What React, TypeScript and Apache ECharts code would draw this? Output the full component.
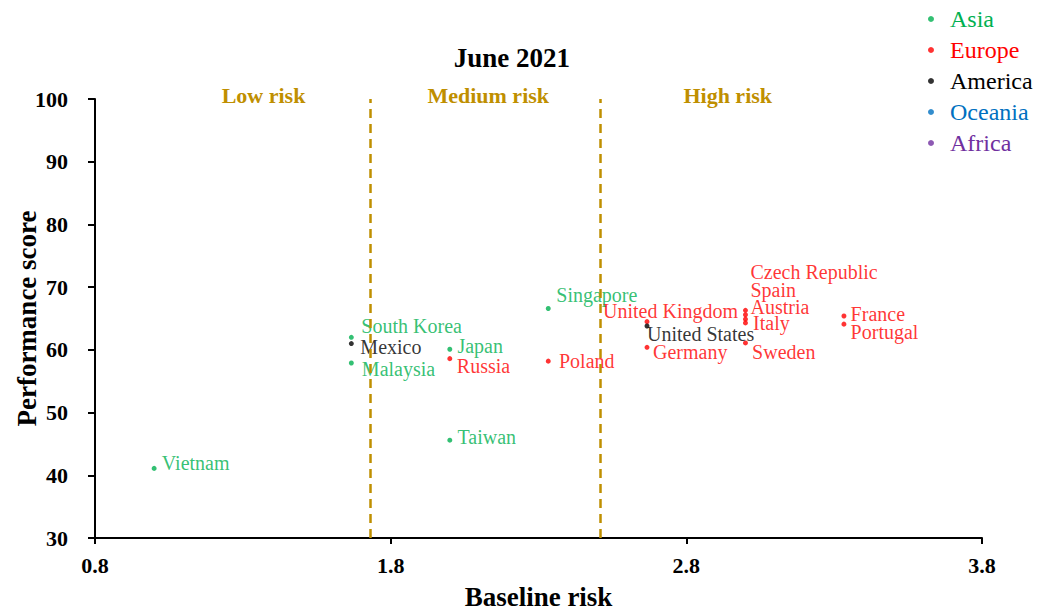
import React, { useEffect, useRef } from "react";
import * as echarts from "echarts";

const FONT = "Liberation Serif, Times New Roman, serif";

const titleText = "June 2021";
const xAxisTitle = "Baseline risk";
const yAxisTitle = "Performance score";

const regions = ["Asia", "Europe", "America", "Oceania", "Africa"];
const regionColors = ["#00B050", "#FF0000", "#000000", "#0070C0", "#7030A0"];

const asiaNames = ["Vietnam", "South Korea", "Malaysia", "Japan", "Taiwan", "Singapore"];
const asiaX = [1.0, 1.667, 1.667, 2.0, 2.0, 2.333];
const asiaY = [41.1, 62.0, 57.9, 60.1, 45.6, 66.6];

const europeNames = [
  "Russia", "Poland", "United Kingdom", "Germany", "Czech Republic", "Spain",
  "Austria", "Italy", "Sweden", "France", "Portugal",
];
const europeX = [2.0, 2.333, 2.667, 2.667, 3.0, 3.0, 3.0, 3.0, 3.0, 3.333, 3.333];
const europeY = [58.6, 58.2, 64.5, 60.4, 66.3, 65.6, 64.9, 64.3, 61.1, 65.4, 64.1];

const americaNames = ["Mexico", "United States"];
const americaX = [1.667, 2.667];
const americaY = [61.0, 63.8];

const oceaniaNames: string[] = [];
const oceaniaX: number[] = [];
const oceaniaY: number[] = [];

const africaNames: string[] = [];
const africaX: number[] = [];
const africaY: number[] = [];

const riskBoundaries = [1.73, 2.51];
const riskZones = ["Low risk", "Medium risk", "High risk"];
const riskLabelX = [1.37, 2.13, 2.94];

const xTicks = { min: 0.8, max: 3.8, interval: 1 };
const yTicks = { min: 30, max: 100, interval: 10 };

// label placement: [dx from dot to text start, dy from dot to text middle]
const labelOffsets: Record<string, [number, number]> = {
  Vietnam: [7.7, -5.6],
  "South Korea": [10, -11],
  Malaysia: [10.5, 6.3],
  Japan: [7.6, -3],
  Taiwan: [7.7, -3.3],
  Singapore: [8, -13.3],
  Russia: [7, 7.7],
  Poland: [10.7, 0],
  "United Kingdom": [-44, -10.7],
  Germany: [6, 5],
  "Czech Republic": [5, -38],
  Spain: [5, -25],
  Austria: [5, -12],
  Italy: [7.6, 0],
  Sweden: [6.6, 9],
  France: [6.7, -2],
  Portugal: [6.7, 7.7],
  Mexico: [9, 3.7],
  "United States": [0, 7.6],
};

const SYMBOL = 5;
const GOLD = "#BF8F00";

function makeSeries(idx: number, names: string[], xs: number[], ys: number[]) {
  const color = regionColors[idx];
  return {
    type: "scatter",
    name: regions[idx],
    symbol: "circle",
    symbolSize: SYMBOL,
    itemStyle: { color },
    label: {
      show: true,
      formatter: "{b}",
      color,
      fontFamily: FONT,
      fontSize: 20,
      align: "left",
      verticalAlign: "middle",
    },
    data: names.map((n, i) => {
      const off = labelOffsets[n] || [6, 0];
      return {
        name: n,
        value: [xs[i], ys[i]],
        label: { position: [off[0] + SYMBOL / 2, off[1] + SYMBOL / 2] },
      };
    }),
  };
}

export default function App() {
  const ref = useRef<HTMLDivElement>(null);
  useEffect(() => {
    document.body.style.margin = "0";
    if (!ref.current) return;
    const chart = echarts.init(ref.current, null, { renderer: "svg" });
    const asia: any = makeSeries(0, asiaNames, asiaX, asiaY);
    asia.markLine = {
      silent: true,
      symbol: ["none", "none"],
      label: { show: false },
      lineStyle: { color: GOLD, width: 2.5, type: [9, 6] },
      data: riskBoundaries.map((v) => ({ xAxis: v })),
    };
    chart.setOption({
      animation: false,
      grid: { left: 95, right: 63, top: 99, bottom: 74, outerBoundsMode: "none", containLabel: false },
      legend: {
        orient: "vertical",
        left: 923,
        top: 2,
        itemWidth: 6,
        itemHeight: 6,
        itemGap: 7,
        icon: "circle",
        textStyle: { fontFamily: FONT, fontSize: 24, padding: [0, 0, 0, 11] },
        data: regions.map((r, i) => ({ name: r, textStyle: { color: regionColors[i] } })),
      },
      xAxis: {
        type: "value",
        min: xTicks.min,
        max: xTicks.max,
        interval: xTicks.interval,
        splitLine: { show: false },
        axisLine: { lineStyle: { color: "#000", width: 2 } },
        axisTick: { show: true, length: 6, lineStyle: { color: "#000", width: 2 } },
        axisLabel: {
          formatter: (v: number) => v.toFixed(1),
          fontFamily: FONT,
          fontSize: 22,
          fontWeight: "bold",
          color: "#000",
          margin: 16,
        },
        name: xAxisTitle,
        nameLocation: "middle",
        nameGap: 45,
        nameMoveOverlap: false,
        nameTextStyle: { fontFamily: FONT, fontSize: 27, fontWeight: "bold", color: "#000" },
      },
      yAxis: {
        type: "value",
        min: yTicks.min,
        max: yTicks.max,
        interval: yTicks.interval,
        splitLine: { show: false },
        axisLine: { lineStyle: { color: "#000", width: 2 } },
        axisTick: { show: true, length: 7, lineStyle: { color: "#000", width: 2 } },
        axisLabel: {
          fontFamily: FONT,
          fontSize: 22,
          fontWeight: "bold",
          color: "#000",
          margin: 27,
        },
        name: yAxisTitle,
        nameLocation: "middle",
        nameGap: 55,
        nameMoveOverlap: false,
        nameTextStyle: { fontFamily: FONT, fontSize: 27, fontWeight: "bold", color: "#000" },
      },
      series: [
        asia,
        makeSeries(1, europeNames, europeX, europeY),
        makeSeries(2, americaNames, americaX, americaY),
        makeSeries(3, oceaniaNames, oceaniaX, oceaniaY),
        makeSeries(4, africaNames, africaX, africaY),
      ],
    });
    const top = chart.convertToPixel({ xAxisIndex: 0, yAxisIndex: 0 }, [xTicks.min, yTicks.max]);
    const mid = (xTicks.min + xTicks.max) / 2;
    const titleX = chart.convertToPixel({ xAxisIndex: 0, yAxisIndex: 0 }, [mid - 0.09, yTicks.max])[0];
    chart.setOption({
      graphic: [
        {
          type: "text",
          x: titleX,
          y: top[1] - 41,
          style: {
            text: titleText,
            fontFamily: FONT,
            fontSize: 27,
            fontWeight: "bold",
            fill: "#000",
            textAlign: "center",
            textVerticalAlign: "middle",
          },
        },
        ...riskZones.map((z, i) => {
          const p = chart.convertToPixel({ xAxisIndex: 0, yAxisIndex: 0 }, [riskLabelX[i], yTicks.max]);
          return {
            type: "text",
            x: p[0],
            y: p[1] - 4,
            style: {
              text: z,
              fontFamily: FONT,
              fontSize: 22,
              fontWeight: "bold",
              fill: GOLD,
              textAlign: "center",
              textVerticalAlign: "middle",
            },
          };
        }),
      ],
    });
    return () => chart.dispose();
  }, []);
  return <div ref={ref} style={{ width: 1045, height: 612 }} />;
}
